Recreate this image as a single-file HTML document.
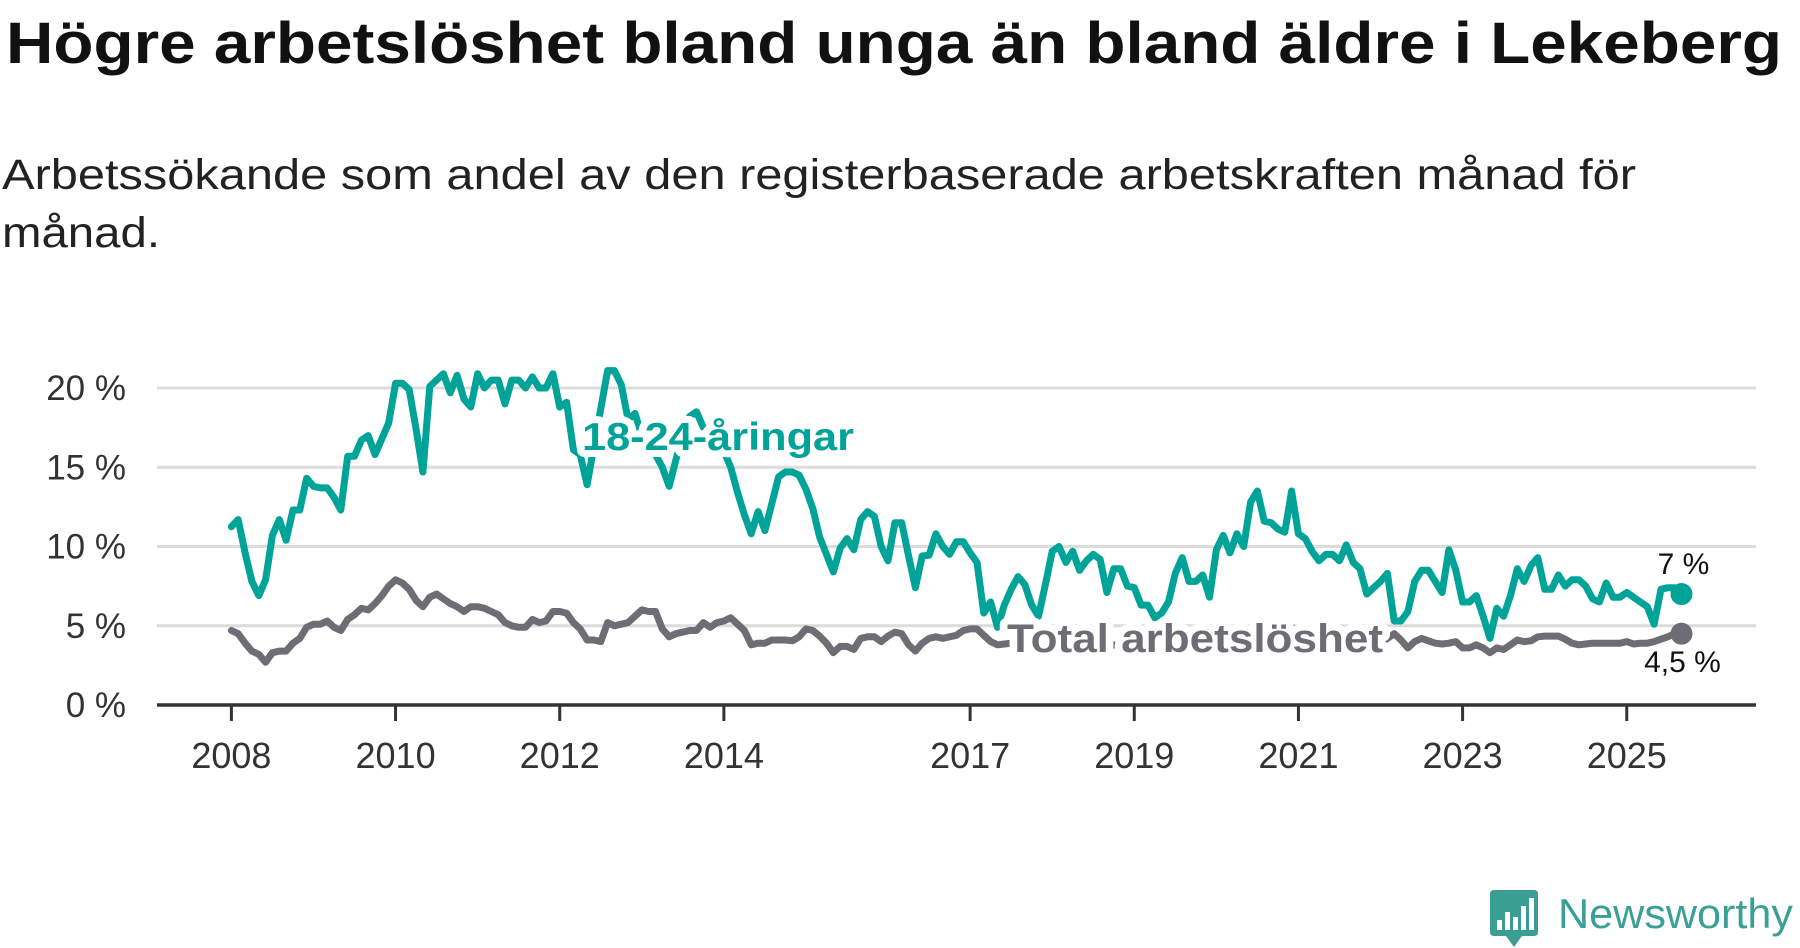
<!DOCTYPE html>
<html><head><meta charset="utf-8"><style>
html,body{margin:0;padding:0;background:#fff;}
svg{display:block;font-family:"Liberation Sans",sans-serif;}
</style></head><body>
<svg id="chart" width="1800" height="948" viewBox="0 0 1800 948" xmlns="http://www.w3.org/2000/svg">
<text x="6" y="63" font-size="58" font-weight="bold" fill="#111" textLength="1776" lengthAdjust="spacingAndGlyphs">Högre arbetslöshet bland unga än bland äldre i Lekeberg</text>
<text x="2" y="189" font-size="43" fill="#222" textLength="1634" lengthAdjust="spacingAndGlyphs">Arbetssökande som andel av den registerbaserade arbetskraften månad för</text>
<text x="2" y="247" font-size="43" fill="#222" textLength="158" lengthAdjust="spacingAndGlyphs">månad.</text>
<g id="grid"></g>
<g id="yaxis"></g>
<g id="xaxis"></g>
<g id="series"></g>
<g id="labels"></g>
<g>
<path d="M1494 890 H1534 Q1538 890 1538 894 V932 Q1538 936 1534 936 H1522 L1514 947 L1506 936 H1494 Q1490 936 1490 932 V894 Q1490 890 1494 890 Z" fill="#3a9e94"/>
<rect x="1497" y="920" width="5" height="10" fill="#fff"/>
<rect x="1505" y="912" width="5" height="18" fill="#fff"/>
<rect x="1513" y="917" width="5" height="13" fill="#fff"/>
<rect x="1521" y="906" width="5" height="24" fill="#fff"/>
<rect x="1529" y="898" width="5" height="32" fill="#fff"/>
<text x="1558" y="928" font-size="42" fill="#3aa096" textLength="235" lengthAdjust="spacingAndGlyphs">Newsworthy</text>
</g>
</svg>
<script>
const startYear = 2008;
const youthValues = [11.25,11.7,9.6,7.8,6.9,7.9,10.7,11.7,10.4,12.3,12.3,14.3,13.8,13.7,13.7,13.1,12.3,15.7,15.7,16.7,17.0,15.8,16.8,17.8,20.3,20.3,19.9,17.4,14.7,20.1,20.5,20.9,19.7,20.8,19.3,18.8,20.9,20.0,20.5,20.5,19.0,20.5,20.5,20.0,20.7,20.0,20.0,20.9,18.8,19.1,16.1,15.8,13.9,16.3,18.7,21.1,21.1,20.2,18.0,18.4,17.0,16.0,15.8,15.0,13.8,15.5,17.0,18.2,18.5,17.5,17.0,16.5,16.0,15.0,13.4,12.0,10.8,12.2,11.0,12.7,14.4,14.7,14.7,14.5,13.6,12.4,10.6,9.5,8.4,9.9,10.5,9.8,11.7,12.2,11.9,10.0,9.1,11.5,11.5,9.4,7.4,9.4,9.45,10.8,10.0,9.5,10.3,10.3,9.6,9.0,5.8,6.5,4.9,6.3,7.3,8.1,7.6,6.3,5.6,7.6,9.7,10.0,9.0,9.7,8.5,9.1,9.5,9.2,7.1,8.6,8.6,7.5,7.4,6.3,6.3,5.5,5.8,6.5,8.3,9.3,7.8,7.8,8.2,6.8,9.8,10.7,9.6,10.8,10.0,12.8,13.5,11.6,11.5,11.1,10.9,13.5,10.8,10.5,9.7,9.1,9.5,9.5,9.1,10.1,9.0,8.6,7.0,7.4,7.8,8.3,5.3,5.3,5.9,7.8,8.5,8.5,7.8,7.1,9.8,8.5,6.5,6.5,6.9,5.6,4.2,6.1,5.6,6.9,8.6,7.8,8.8,9.3,7.3,7.3,8.2,7.5,7.9,7.9,7.5,6.7,6.5,7.7,6.8,6.8,7.1,6.8,6.5,6.2,5.1,7.3,7.4,7.4,7.0];
const totalValues = [4.7,4.5,3.9,3.4,3.2,2.7,3.3,3.4,3.4,3.9,4.2,4.9,5.1,5.1,5.3,4.9,4.7,5.4,5.7,6.1,6.0,6.4,6.9,7.5,7.9,7.7,7.3,6.6,6.2,6.8,7.0,6.7,6.4,6.2,5.9,6.2,6.2,6.1,5.9,5.7,5.2,5.0,4.9,4.9,5.4,5.2,5.3,5.9,5.9,5.8,5.2,4.8,4.1,4.1,4.0,5.2,5.0,5.1,5.2,5.6,6.0,5.9,5.9,4.8,4.3,4.5,4.6,4.7,4.7,5.2,4.9,5.2,5.3,5.5,5.1,4.7,3.8,3.9,3.9,4.1,4.1,4.1,4.05,4.3,4.8,4.7,4.35,3.9,3.3,3.7,3.7,3.5,4.2,4.3,4.3,4.0,4.35,4.6,4.5,3.8,3.4,3.9,4.2,4.3,4.2,4.3,4.4,4.7,4.8,4.8,4.4,4.0,3.8,3.85,3.9,4.0,4.1,4.0,3.9,3.7,3.8,3.9,3.8,3.9,3.8,3.7,3.6,3.6,3.7,3.8,3.7,3.6,3.5,3.4,3.5,3.6,3.7,3.8,3.9,3.8,3.7,3.8,3.9,4.0,4.2,4.4,4.6,4.7,4.8,4.9,4.8,4.7,4.6,4.7,4.8,4.9,4.7,4.5,4.4,4.3,4.2,4.1,4.0,4.0,3.9,3.9,3.8,3.8,3.9,4.2,4.5,4.1,3.6,4.0,4.2,4.05,3.9,3.85,3.9,4.0,3.6,3.6,3.8,3.6,3.3,3.6,3.5,3.8,4.1,4.0,4.05,4.3,4.35,4.35,4.35,4.15,3.9,3.8,3.85,3.9,3.9,3.9,3.9,3.9,4.0,3.85,3.9,3.9,4.0,4.15,4.3,4.5,4.5];
const yTicks = [0,5,10,15,20];
const yTickLabels = ["0 %","5 %","10 %","15 %","20 %"];
const xTickYears = [2008,2010,2012,2014,2017,2019,2021,2023,2025];
const youthEndLabel = "7 %";
const totalEndLabel = "4,5 %";

const NS = "http://www.w3.org/2000/svg";
const X0 = 231.4, PXM = 6.84, Y0 = 705, PXV = 15.85;
function xScale(i){ return X0 + i*PXM; }
function yScale(v){ return Y0 - v*PXV; }
function mk(tag, attrs, parent){ const e=document.createElementNS(NS,tag); for(const k in attrs) e.setAttribute(k,attrs[k]); parent.appendChild(e); return e; }

const grid=document.getElementById('grid'), yaxis=document.getElementById('yaxis'), xaxis=document.getElementById('xaxis'), series=document.getElementById('series'), labels=document.getElementById('labels');

yTicks.forEach((t,k)=>{
  if(t>0){
    const g=mk('line',{x1:157,x2:1756,y1:yScale(t),y2:yScale(t),stroke:'#dcdcdc','stroke-width':3},grid);
    
    
  }
  const tx=mk('text',{x:126,y:yScale(t)+12,'text-anchor':'end','font-size':35,fill:'#333'},yaxis);
  tx.textContent=yTickLabels[k];
  
  
});
const ax=mk('line',{x1:157,x2:1756,y1:Y0,y2:Y0,stroke:'#333','stroke-width':3.5},xaxis);


xTickYears.forEach(yr=>{
  const xx=xScale((yr-startYear)*12);
  const tk=mk('line',{x1:xx,x2:xx,y1:Y0,y2:Y0+16,stroke:'#333','stroke-width':3},xaxis);
  
  
  const tl=mk('text',{x:xx,y:768,'text-anchor':'middle','font-size':36,fill:'#333'},xaxis);
  tl.textContent=String(yr);
  
  
});

function drawLine(vals,color,name){
  const d=vals.map((v,i)=>(i?'L':'M')+xScale(i).toFixed(1)+' '+yScale(v).toFixed(1)).join(' ');
  const p=mk('path',{d:d,fill:'none',stroke:color,'stroke-width':7,'stroke-linejoin':'round','stroke-linecap':'round'},series);
  
  
  const n=vals.length-1;
  const c=mk('circle',{cx:xScale(n),cy:yScale(vals[n]),r:11,fill:color},series);
  
  
}
drawLine(totalValues,'#6e6d75','total');
drawLine(youthValues,'#00a398','youth');

function label(txt,x,y,size,weight,color,len,name,anchor,halo){
  const t=mk('text',{x:x,y:y,'font-size':size,'font-weight':weight,fill:color,stroke:'#fff','stroke-width':halo||9,'stroke-linejoin':'round','paint-order':'stroke','text-anchor':anchor||'start'},labels);
  if(len){ t.setAttribute('textLength',len); t.setAttribute('lengthAdjust','spacingAndGlyphs'); }
  t.textContent=txt;
  
  
}
label('18-24-åringar',582,450,39,'bold','#00a398',272,'youth-series-label',null,14);
label('Total arbetslöshet',1007,652,40,'bold','#6e6d75',376,'total-series-label',null,14);
const nL=youthValues.length-1;
label(youthEndLabel,xScale(nL)+2,574,30,'normal','#111',null,'youth-end-value','middle');
label(totalEndLabel,xScale(nL)+1,672,30,'normal','#111',null,'total-end-value','middle');
</script>
</body></html>
